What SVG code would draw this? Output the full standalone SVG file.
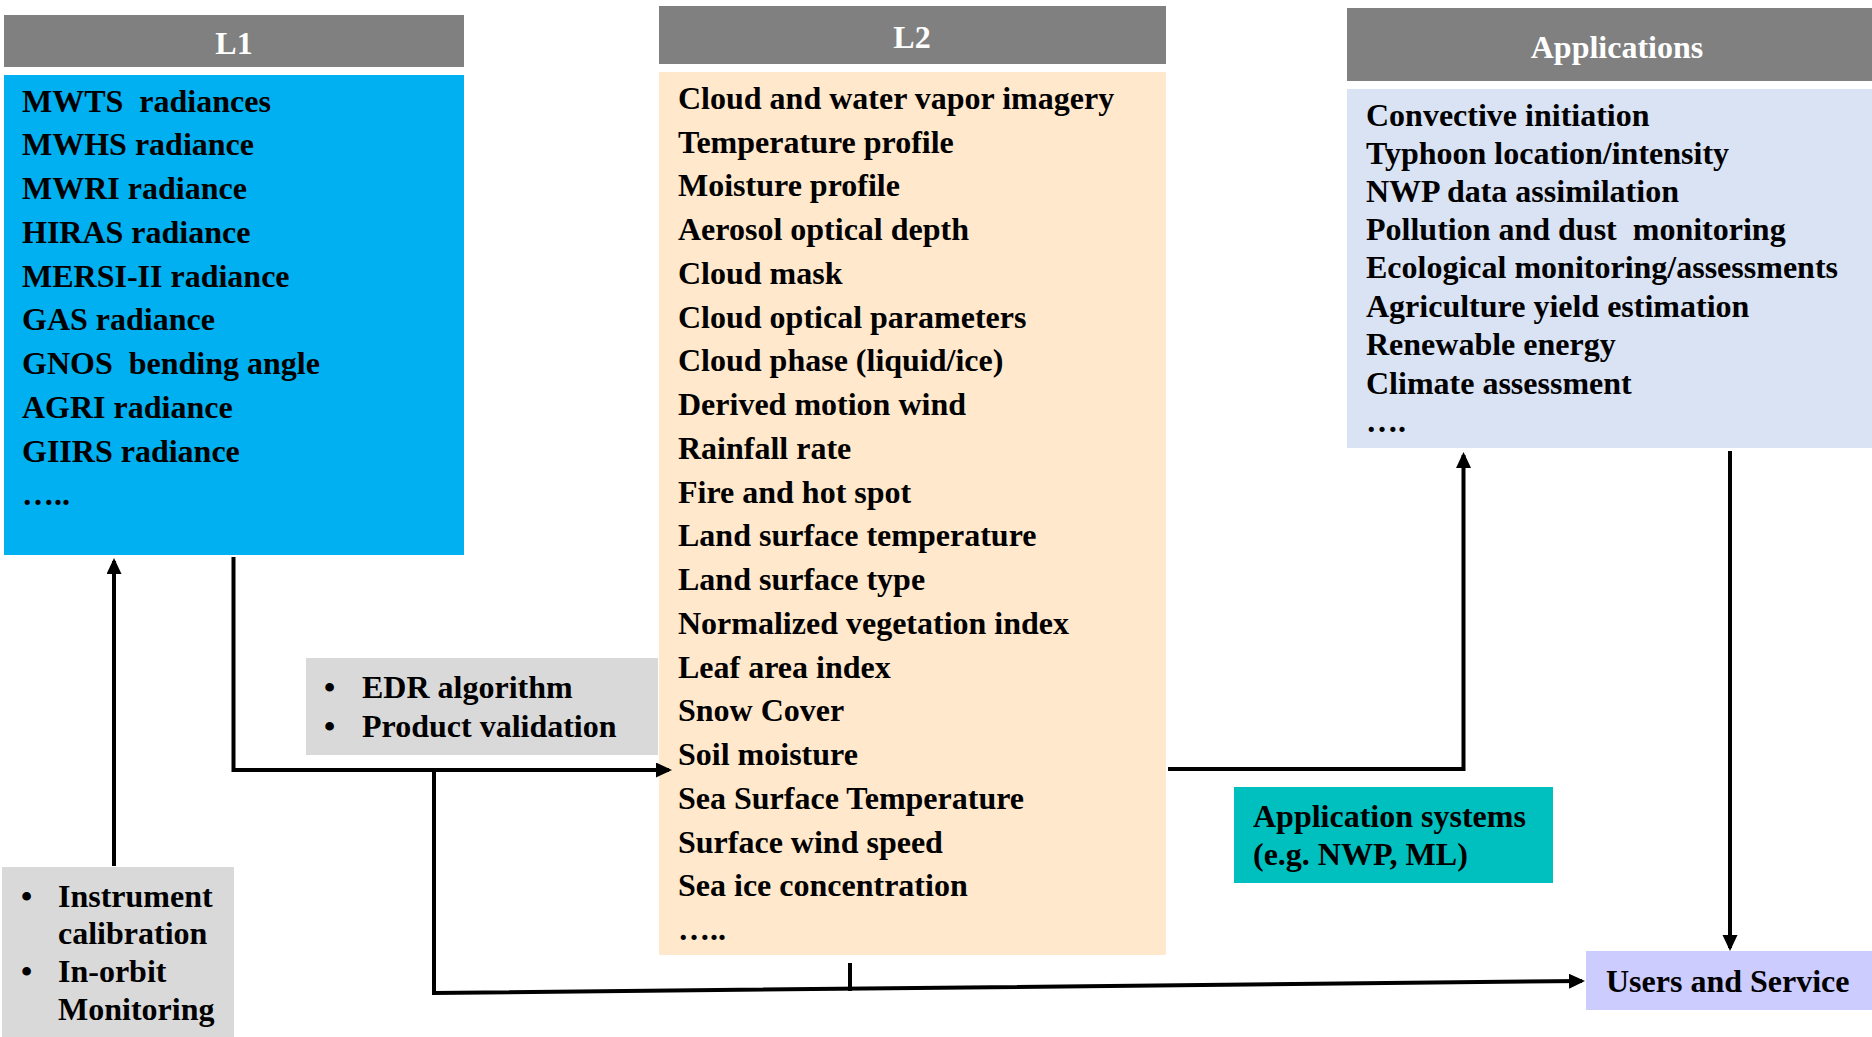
<svg xmlns="http://www.w3.org/2000/svg" width="1872" height="1037" viewBox="0 0 1872 1037">
<defs>
<style>
text{font-family:"Liberation Serif","Times New Roman",serif;font-weight:bold;font-size:32px;fill:#000}
.pre{white-space:pre}
.hdr{fill:#808080}
.ht{fill:#fff;text-anchor:middle}
.conn{fill:none;stroke:#000;stroke-width:4;stroke-linejoin:miter}
</style>
<marker id="arr" markerUnits="userSpaceOnUse" markerWidth="17" markerHeight="16" refX="13" refY="7.5" orient="auto">
<path d="M0,0 L16,7.5 L0,15 z" fill="#000"/>
</marker>
</defs>
<rect width="1872" height="1037" fill="#fff"/>

<g id="l1">
<rect class="hdr" x="4" y="15" width="460" height="52"/>
<text class="ht" x="234" y="54">L1</text>
<rect x="4" y="75" width="460" height="480" fill="#00B0F0"/>
<text class="pre" xml:space="preserve" x="22" y="112">MWTS  radiances</text>
<text x="22" y="155">MWHS radiance</text>
<text x="22" y="199">MWRI radiance</text>
<text x="22" y="243">HIRAS radiance</text>
<text x="22" y="287">MERSI-II radiance</text>
<text x="22" y="330">GAS radiance</text>
<text class="pre" xml:space="preserve" x="22" y="374">GNOS  bending angle</text>
<text x="22" y="418">AGRI radiance</text>
<text x="22" y="462">GIIRS radiance</text>
<text x="22" y="505">…..</text>
</g>

<g id="l2">
<rect class="hdr" x="659" y="6" width="507" height="58"/>
<text class="ht" x="912" y="48">L2</text>
<rect x="659" y="72" width="507" height="883" fill="#FFE8CC"/>
<text x="678" y="109">Cloud and water vapor imagery</text>
<text x="678" y="153">Temperature profile</text>
<text x="678" y="196">Moisture profile</text>
<text x="678" y="240">Aerosol optical depth</text>
<text x="678" y="284">Cloud mask</text>
<text x="678" y="328">Cloud optical parameters</text>
<text x="678" y="371">Cloud phase (liquid/ice)</text>
<text x="678" y="415">Derived motion wind</text>
<text x="678" y="459">Rainfall rate</text>
<text x="678" y="503">Fire and hot spot</text>
<text x="678" y="546">Land surface temperature</text>
<text x="678" y="590">Land surface type</text>
<text x="678" y="634">Normalized vegetation index</text>
<text x="678" y="678">Leaf area index</text>
<text x="678" y="721">Snow Cover</text>
<text x="678" y="765">Soil moisture</text>
<text x="678" y="809">Sea Surface Temperature</text>
<text x="678" y="853">Surface wind speed</text>
<text x="678" y="896">Sea ice concentration</text>
<text x="678" y="940">…..</text>
</g>

<g id="applications">
<rect class="hdr" x="1347" y="8" width="525" height="73"/>
<text class="ht" x="1617" y="58">Applications</text>
<rect x="1347" y="89" width="525" height="359" fill="#DAE3F3"/>
<text x="1366" y="126">Convective initiation</text>
<text x="1366" y="164">Typhoon location/intensity</text>
<text x="1366" y="202">NWP data assimilation</text>
<text class="pre" xml:space="preserve" x="1366" y="240">Pollution and dust  monitoring</text>
<text x="1366" y="278">Ecological monitoring/assessments</text>
<text x="1366" y="317">Agriculture yield estimation</text>
<text x="1366" y="355">Renewable energy</text>
<text x="1366" y="394">Climate assessment</text>
<text x="1366" y="432">….</text>
</g>

<g id="edr">
<rect x="306" y="658" width="352" height="97" fill="#D9D9D9"/>
<text x="324" y="698">•</text>
<text x="362" y="698">EDR algorithm</text>
<text x="324" y="737">•</text>
<text x="362" y="737">Product validation</text>
</g>

<g id="calibration">
<rect x="2" y="867" width="232" height="170" fill="#D9D9D9"/>
<text x="21" y="907">•</text>
<text x="58" y="907">Instrument</text>
<text x="58" y="944">calibration</text>
<text x="21" y="982">•</text>
<text x="58" y="982">In-orbit</text>
<text x="58" y="1020">Monitoring</text>
</g>

<g id="appsystems">
<rect x="1234" y="787" width="319" height="96" fill="#00BFBF"/>
<text x="1253" y="827">Application systems</text>
<text x="1253" y="865">(e.g. NWP, ML)</text>
</g>

<g id="users">
<rect x="1586" y="951" width="286" height="59" fill="#CCCCFF"/>
<text x="1606" y="992">Users and Service</text>
</g>

<g id="connectors">
<path class="conn" d="M114,866 V561" marker-end="url(#arr)"/>
<path class="conn" d="M233.5,557 V770 H669" marker-end="url(#arr)"/>
<path class="conn" d="M434,770 V993 L1582,981" marker-end="url(#arr)"/>
<path class="conn" d="M850,963 V991"/>
<path class="conn" d="M1168,769 H1463.5 V455" marker-end="url(#arr)"/>
<path class="conn" d="M1730,451 V948" marker-end="url(#arr)"/>
</g>
</svg>
